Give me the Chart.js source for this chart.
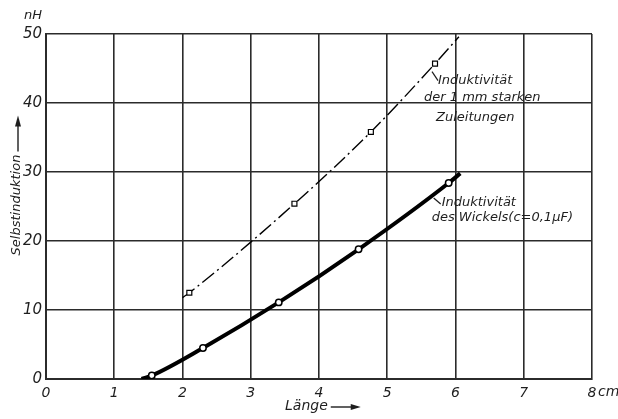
<!DOCTYPE html>
<html><head><meta charset="utf-8">
<script src="https://cdn.jsdelivr.net/npm/chart.js@4"></script>
<style>html,body{margin:0;padding:0;background:#fff}#wrap{width:618px;height:419px}</style>
</head><body><div id="wrap"><canvas id="c" width="618" height="419"></canvas></div>
<script>
// ---- data ----
const xTicks = [0, 1, 2, 3, 4, 5, 6, 7, 8];
const yTicks = [0, 10, 20, 30, 40, 50];
const wickelX = [1.4, 1.55, 2.3, 3.41, 4.58, 5.9, 6.07];
const wickelY = [0, 0.5, 4.5, 11.1, 18.8, 28.4, 29.8];
const wickelMarks = [false, true, true, true, true, true, false];
const zuleitX = [2.0, 2.1, 3.64, 4.76, 5.70, 6.05];
const zuleitY = [11.8, 12.5, 25.4, 35.8, 45.7, 49.6];
const zuleitMarks = [false, true, true, true, true, false];
const zuleitLabel = ['Induktivität', 'der 1 mm starken', 'Zuleitungen'];
const wickelLabel = ['Induktivität', 'des Wickels(c=0,1μF)'];
const xTitle = 'Länge';
const yTitle = 'Selbstinduktion';
const yUnit = 'nH';
const xUnit = 'cm';

const FAM = "'DejaVu Sans', sans-serif";
const INK = '#1e1e1e';
const GRID = '#2b2b2b';

const toPts = (xs, ys) => xs.map((x, i) => ({x, y: ys[i]}));

const annotate = {
  id: 'annotate',
  afterDraw(chart) {
    const {ctx, scales: {x, y}} = chart;
    ctx.save();
    ctx.fillStyle = INK; ctx.strokeStyle = INK;
    ctx.font = 'italic 13px ' + FAM;
    ctx.textBaseline = 'middle';
    ctx.textAlign = 'left';
    const line = (x1, y1, x2, y2, w) => { ctx.lineWidth = w; ctx.beginPath(); ctx.moveTo(x1, y1); ctx.lineTo(x2, y2); ctx.stroke(); };
    // annotation for Zuleitungen (anchor: 5th point)
    let ax = x.getPixelForValue(zuleitX[4]), ay = y.getPixelForValue(zuleitY[4]);
    line(ax - 3, ay + 8, ax + 3, ay + 17, 1.2);
    const off1 = [[3, 17], [-11, 34], [1, 54]];
    zuleitLabel.forEach((t, i) => ctx.fillText(t, ax + off1[i][0], ay + off1[i][1]));
    // annotation for Wickel (anchor: 6th point)
    ax = x.getPixelForValue(wickelX[5]); ay = y.getPixelForValue(wickelY[5]);
    line(ax - 15, ay + 15, ax - 8, ay + 21, 1.2);
    const off2 = [[-7, 20], [-17, 35]];
    wickelLabel.forEach((t, i) => ctx.fillText(t, ax + off2[i][0], ay + off2[i][1]));

    // unit labels
    ctx.font = 'italic 13px ' + FAM;
    ctx.textAlign = 'center';
    ctx.fillText(yUnit, 33, 16);
    ctx.font = 'italic 14px ' + FAM;
    ctx.textAlign = 'left';
    ctx.fillText(xUnit, x.getPixelForValue(8) + 6, 392);

    // x title with arrow
    ctx.font = 'italic 14px ' + FAM;
    ctx.fillText(xTitle, 285, 406);
    const tx = 285 + ctx.measureText(xTitle).width + 3;
    line(tx, 407, tx + 22, 407, 1.4);
    ctx.beginPath(); ctx.moveTo(tx + 30, 407); ctx.lineTo(tx + 20, 404); ctx.lineTo(tx + 20, 410); ctx.closePath(); ctx.fill();

    // y title with arrow (rotated)
    ctx.translate(17, 205);
    ctx.rotate(-Math.PI / 2);
    ctx.font = 'italic 13px ' + FAM;
    ctx.textAlign = 'center';
    ctx.fillText(yTitle, 0, 0);
    const w = ctx.measureText(yTitle).width / 2;
    line(w + 3, 1, w + 30, 1, 1.4);
    ctx.beginPath(); ctx.moveTo(w + 39, 1); ctx.lineTo(w + 28, -2); ctx.lineTo(w + 28, 4); ctx.closePath(); ctx.fill();
    ctx.restore();
  }
};

new Chart(document.getElementById('c'), {
  type: 'line',
  data: {
    datasets: [
      {
        data: toPts(wickelX, wickelY),
        borderColor: '#000', borderWidth: 4,
        cubicInterpolationMode: 'monotone',
        pointRadius: wickelMarks.map(m => m ? 3.2 : 0),
        pointStyle: 'circle',
        pointBackgroundColor: '#fff', pointBorderColor: '#000', pointBorderWidth: 1.5,
        fill: false
      },
      {
        data: toPts(zuleitX, zuleitY),
        borderColor: '#000', borderWidth: 1.4,
        borderDash: [15, 4, 2, 4],
        cubicInterpolationMode: 'monotone',
        pointRadius: zuleitMarks.map(m => m ? 3.5 : 0),
        pointStyle: 'rect',
        pointBackgroundColor: '#fff', pointBorderColor: '#000', pointBorderWidth: 1.2,
        fill: false
      }
    ]
  },
  options: {
    responsive: false,
    animation: false,
    devicePixelRatio: 1,
    layout: {padding: {top: 34, right: 26, left: 0, bottom: 0}},
    plugins: {legend: {display: false}, tooltip: {enabled: false}},
    scales: {
      x: {
        type: 'linear', min: xTicks[0], max: xTicks[xTicks.length - 1],
        afterBuildTicks: s => { s.ticks = xTicks.map(v => ({value: v})); },
        afterFit: s => { s.height = 40; },
        ticks: {color: INK, padding: 6, font: {family: FAM, size: 14, style: 'italic'}, maxRotation: 0},
        grid: {color: GRID, lineWidth: 1.6, drawTicks: false},
        border: {color: GRID, width: 2}
      },
      y: {
        type: 'linear', min: yTicks[0], max: yTicks[yTicks.length - 1],
        afterBuildTicks: s => { s.ticks = yTicks.map(v => ({value: v})); },
        afterFit: s => { s.width = 46; },
        ticks: {color: INK, padding: 4, font: {family: FAM, size: 15, style: 'italic'}},
        grid: {color: GRID, lineWidth: 1.6, drawTicks: false},
        border: {color: GRID, width: 2}
      }
    }
  },
  plugins: [annotate]
});
</script>
</body></html>
